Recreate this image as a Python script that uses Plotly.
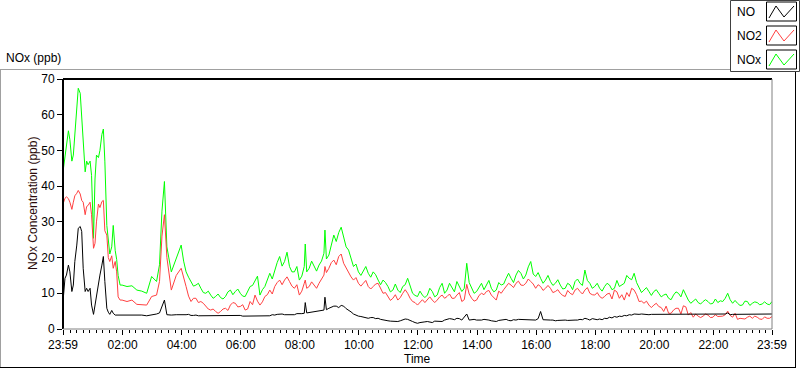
import plotly.graph_objects as go
import pandas as pd

# ---- main readings (minutes after the 23:59 start) ----
minutes = ([0, 4, 7, 11, 14, 18, 21, 24, 28, 31, 35, 38, 41, 45, 48, 51, 55, 58, 62, 65,
            68, 72, 75, 79, 82, 85, 89, 92, 95, 99, 102, 106, 109, 112, 116]
           + list(range(120, 200, 10))
           + [196, 201, 206, 211]
           + list(range(220, 490, 10))
           + [490, 492, 500, 510, 520, 530, 532]
           + list(range(540, 1450, 10)))

nox = ([44, 48, 51.5, 55.5, 53, 47, 48.7, 55, 61, 67.4, 66, 60, 52.5, 44, 47, 46, 47, 43, 25.4, 42,
        48.7, 48, 50, 54.5, 56, 47, 29, 25, 21, 23, 29, 22, 19.5, 15, 12.3]
       + [12.3, 11.9, 12.1, 10.9, 10.6, 10, 14.7, 13.3]
       + [18, 33, 41.3, 23]
       + [16, 20, 23.5, 16, 13.3, 12.3, 11.4, 10, 9.5, 9.1, 8.8, 9.1, 10.9, 10.5, 10, 9.1, 11.9, 13.7,
          9.5, 11.9, 15.6, 16.5, 20.3, 18.9, 17.5, 16, 13.7]
       + [17.5, 23.8, 17, 17.5, 17.9, 21.2, 27.7]
       + [20.7, 26.3, 27, 25.4, 22.1, 17.5, 16, 16.5, 15.6, 16, 13.7, 13.7, 11.9, 10.9, 10.9, 11.9,
          14.2, 10, 9.1, 9.5]
       + [9.5, 10.5, 9.5, 12.8, 10.9, 11.4, 13.3, 10.5, 18.4, 11.4, 10.5, 12.8, 12.3, 11.4, 10.9, 12.3,
          14.2, 14.2, 15.1, 15.6, 15.1, 18.9, 14.7, 14.2, 13.7, 13.3, 12.8, 12.3, 11.4, 12.3, 13.3, 12.8,
          16.5, 12.8, 11.9, 11.4, 11.9, 12.3]
       + [11.4, 11.9, 12.8, 14.2, 15.6, 11.4, 10.9, 10.5, 10.5, 10, 9.5, 8.6, 9.5, 10, 11, 8.1, 7.7,
          7.4, 7.7, 7.7, 7.2, 7.4, 7.7, 10, 7.2, 7.2, 6.7, 7.7, 7.2, 7.4, 7.0, 7.0, 7.7])

no2 = ([35, 36.6, 37, 36.5, 35.5, 33.5, 35.5, 37.3, 38, 38.8, 37.8, 36, 35.5, 32, 34.3, 34.6, 35.5, 32,
        22.6, 24, 30, 35, 34, 35.7, 36, 27.5, 26.3, 20, 18.9, 20.5, 17, 18.9, 16, 9, 8.1]
       + [8.1, 7.7, 8.1, 6.9, 6.7, 6.7, 9.1, 9.5]
       + [13.3, 26, 32, 20]
       + [10.9, 15, 17, 11.9, 7.7, 8.6, 7.7, 6.3, 5.3, 4.9, 4.9, 5.8, 6.7, 7.2, 6.3, 5.3, 7.7, 9.5, 6.7,
          9.1, 10.9, 11.9, 13.7, 13.7, 13.3, 11.4, 9.5]
       + [12.8, 13.7, 11.9, 12.3, 12.8, 15.1, 17.5]
       + [17, 19.3, 20.3, 18.4, 16, 13.7, 12.8, 12.8, 11.9, 11.9, 12.8, 10, 9.1, 8.6, 8.1, 10, 10, 7.7,
          6.7, 8.2]
       + [8.1, 8.1, 8.1, 9.5, 9.1, 8.6, 9.5, 7.7, 12.5, 8.6, 8.1, 10, 10.5, 9.5, 8.1, 10, 11.9, 12.3,
          12.8, 12.3, 12.8, 13.3, 11.4, 11.9, 11.4, 11.4, 10.5, 10, 9.1, 10, 10.9, 10.5, 10.9, 10, 9.5,
          9.1, 9.1, 10]
       + [10.9, 8.6, 8.1, 9.1, 10.9, 7.7, 7.2, 6.7, 6.7, 6.3, 4.9, 4.4, 5.3, 5.8, 6.5, 3.9, 3.3, 3.6,
          3.6, 3.9, 3.3, 3.5, 3.6, 5.0, 3.3, 2.7, 3.0, 3.3, 3.0, 3.3, 2.7, 3.0, 3.5])

no = ([7.7, 14.2, 15.1, 17.9, 16, 10.5, 12.3, 18.9, 23.5, 28.2, 28.7, 27.3, 17, 10.5, 11.4, 10.5, 11.4,
       6.7, 4.1, 6.7, 9.5, 13.3, 15.1, 17.9, 20.3, 13.3, 5.8, 4.7, 4.1, 5.2, 4.4, 3.9, 3.9, 3.9, 3.9]
      + [3.9, 3.8, 4.0, 3.8, 3.9, 3.7, 3.9, 4.2]
      + [4.5, 6.5, 8.1, 4.0]
      + [3.9, 4.0, 3.9, 4.0, 3.8, 3.9, 3.7, 3.8, 3.9, 3.7, 3.8, 3.9, 3.8, 3.7, 3.8, 3.6, 3.7, 3.6, 3.7,
         3.8, 3.7, 3.9, 4.2, 4.0, 4.1, 4.0, 4.2]
      + [4.4, 7.4, 4.6, 4.7, 4.9, 5.3, 8.9]
      + [5.8, 6.4, 6.0, 6.4, 5.3, 4.2, 3.6, 3.3, 3.0, 3.2, 3.0, 2.5, 2.3, 2.1, 2.1, 2.5, 2.7, 2.1, 1.6,
         1.8]
      + [2.1, 1.8, 2.2, 2.1, 2.7, 2.8, 3.0, 2.5, 4.2, 2.7, 2.5, 2.5, 2.7, 2.3, 2.1, 2.5, 2.7, 2.3, 2.5,
         2.7, 2.5, 2.7, 2.5, 4.9, 2.5, 2.5, 2.3, 2.5, 2.5, 2.5, 2.5, 2.7, 3.0, 2.5, 2.7, 2.8, 3.0, 3.3]
      + [3.5, 3.6, 3.8, 4.0, 4.2, 4.1, 4.1, 4.0, 4.1, 4.1, 4.0, 4.1, 4.2, 4.1, 4.1, 4.0, 4.1, 4.1, 4.0,
         4.1, 4.0, 4.1, 4.1, 4.5, 4.1, 4.1, 4.0, 4.1, 4.1, 4.2, 4.1, 4.1, 4.2])

# ---- in-between readings (04:04 onwards, every 10 min, offset 5 min) ----
minutes_mid = list(range(245, 1445, 10))

nox_mid = [19, 14.5, 12, 12.8, 10.2, 10.6, 8.6, 9.8, 8.4, 10.4,
           9.6, 11.2, 9.2, 10.6, 12.2, 14.8, 11, 13.6, 14, 18.6,
           17.6, 21.5, 16, 17.5, 14.8, 16, 19, 16.2, 19, 19.6,
           23.5, 24.5, 28.5, 23, 19.5, 18.2, 15, 17.5, 14.5, 15.2,
           12.4, 13, 10.4, 12.6, 10.2, 12.4, 11.8, 9.4, 10.6, 8.8,
           11.4, 9, 11.6, 10, 12.8, 10.4, 12, 11.4, 13, 10,
           11.8, 11, 13.6, 10.4, 13, 12.6, 15.6, 13, 16.4, 14,
           17.4, 15.4, 15.8, 12.8, 15, 12.2, 13.8, 11.2, 12.8, 11,
           14, 12.2, 13.6, 11.4, 12.8, 10.6, 12.8, 11, 13.6, 12.4,
           15, 13.8, 13, 10.2, 11.6, 9.4, 11, 9, 9.8, 8.2,
           10.4, 9, 9.4, 7.2, 8.4, 7, 8.2, 7, 8.4, 7.9,
           8.6, 8.2, 8, 6.6, 7.8, 6.6, 7.6, 6.8, 7.6, 6.8]

no2_mid = [14, 9.2, 8.6, 7.4, 7.2, 5.6, 5.6, 4.4, 5.6, 5.2,
           7.4, 6.2, 6.8, 5.6, 6.8, 7.8, 7.6, 9.6, 9.8, 13,
           12.4, 14.6, 12, 12.4, 10.6, 11.4, 13.2, 11.4, 13.8, 15.8,
           18.6, 18, 21, 17, 14.6, 14.4, 12, 13.6, 11.2, 12.6,
           11.2, 10.2, 8, 9.6, 8.8, 11, 8.6, 7.4, 7.4, 7.4,
           9, 7.4, 9, 8.6, 9.8, 8.6, 10.2, 8.2, 9.8, 7.8,
           9.4, 9.6, 10.8, 8.8, 10.6, 11, 12.8, 11.6, 13.4, 12.2,
           14, 12.6, 12.4, 10.8, 12.2, 10.2, 11, 9.4, 10.8, 9.6,
           11.4, 9.8, 11.6, 9.6, 10.2, 8.6, 9.8, 8.4, 10.4, 9.6,
           10.2, 11.4, 9.6, 7.8, 7.8, 6, 7.2, 6, 6.4, 4.4,
           5.8, 4.2, 6.2, 4.6, 4.2, 3.2, 4.2, 3.2, 4, 3.6,
           4, 3.8, 4.4, 3, 2.8, 3.6, 3.6, 2.8, 3.4, 3.0]

no_mid = [3.9, 4.1, 3.8, 3.7, 3.9, 3.8, 3.7, 3.9, 3.8, 3.7,
          3.9, 3.7, 3.6, 3.8, 3.6, 3.8, 3.7, 3.8, 4.0, 4.1,
          4.2, 4.0, 4.1, 4.3, 4.3, 4.5, 4.6, 4.8, 5.2, 5.4,
          6.2, 6.4, 6.6, 5.7, 4.8, 3.8, 3.5, 3.1, 3.2, 2.9,
          2.7, 2.5, 2.2, 2.2, 2.3, 2.8, 2.3, 1.8, 1.8, 2.0,
          2.0, 2.2, 2.0, 2.5, 2.9, 2.6, 2.9, 3.2, 2.5, 2.7,
          2.4, 2.7, 2.5, 2.1, 2.4, 2.6, 2.4, 2.6, 2.7, 2.5,
          2.6, 2.7, 2.9, 2.6, 2.4, 2.5, 2.4, 2.6, 2.4, 2.6,
          2.5, 2.6, 2.8, 2.9, 2.6, 2.6, 2.9, 3.1, 3.3, 3.5,
          3.7, 3.9, 4.1, 4.2, 4.0, 4.1, 4.0, 4.1, 4.0, 4.2,
          4.1, 4.2, 4.0, 4.1, 4.1, 4.0, 4.1, 4.0, 4.1, 4.1,
          4.2, 4.0, 4.1, 4.0, 4.1, 4.1, 4.0, 4.2, 4.1, 4.1]

tick_labels = ["23:59", "02:00", "04:00", "06:00", "08:00", "10:00", "12:00",
               "14:00", "16:00", "18:00", "20:00", "22:00", "23:59"]
y_ticks = [0, 10, 20, 30, 40, 50, 60, 70]

# ---- assemble in time order ----
rows = sorted(zip(minutes + minutes_mid, no + no_mid, no2 + no2_mid, nox + nox_mid))
start = pd.Timestamp("2014-01-01 23:59")
end = start + pd.Timedelta(minutes=1440)
times = [start + pd.Timedelta(minutes=r[0]) for r in rows]
s_no = [r[1] for r in rows]
s_no2 = [r[2] for r in rows]
s_nox = [r[3] for r in rows]
tick_vals = [start] + [pd.Timestamp("2014-01-02") + pd.Timedelta(hours=h) for h in range(2, 23, 2)] + [end]

FONT = "Liberation Sans"
W, H = 800, 369
L, R, T, B = 63, 772, 79, 329


def px(x):
    return (x - L) / (R - L)


def py(y):
    return (B - y) / (B - T)


fig = go.Figure()
fig.add_trace(go.Scatter(x=times, y=s_nox, mode="lines", name="NOx",
                         line=dict(color="#00ff00", width=1)))
fig.add_trace(go.Scatter(x=times, y=s_no2, mode="lines", name="NO2",
                         line=dict(color="#ff4040", width=1)))
fig.add_trace(go.Scatter(x=times, y=s_no, mode="lines", name="NO",
                         line=dict(color="#000000", width=1)))

shapes = []
# plot frame
shapes.append(dict(type="line", xref="paper", yref="paper", x0=0, x1=0, y0=0, y1=1,
                   line=dict(color="black", width=2)))
shapes.append(dict(type="line", xref="paper", yref="paper", x0=0, x1=1, y0=1, y1=1,
                   line=dict(color="black", width=2)))
shapes.append(dict(type="line", xref="paper", yref="paper", x0=1, x1=1, y0=0, y1=1,
                   line=dict(color="#808080", width=1)))
shapes.append(dict(type="line", xref="paper", yref="paper", x0=0, x1=1, y0=0, y1=0,
                   line=dict(color="#808080", width=1)))
# outer panel frame
shapes.append(dict(type="line", xref="paper", yref="paper", x0=px(0), x1=px(730), y0=py(69.5), y1=py(69.5),
                   line=dict(color="#a0a0a0", width=1)))
shapes.append(dict(type="line", xref="paper", yref="paper", x0=px(0.5), x1=px(0.5), y0=py(69.5), y1=py(368),
                   line=dict(color="#a0a0a0", width=1)))
shapes.append(dict(type="line", xref="paper", yref="paper", x0=px(0), x1=px(796), y0=py(367.5), y1=py(367.5),
                   line=dict(color="#000000", width=1)))
shapes.append(dict(type="line", xref="paper", yref="paper", x0=px(795.5), x1=px(795.5), y0=py(72), y1=py(368),
                   line=dict(color="#000000", width=1)))
# legend box
shapes.append(dict(type="rect", xref="paper", yref="paper", x0=px(730.5), x1=px(799.5), y0=py(0.5), y1=py(71.5),
                   line=dict(color="#404040", width=1), fillcolor="white", layer="below"))

annotations = []
legend_items = [("NO", "#000000"), ("NO2", "#ff4040"), ("NOx", "#00ff00")]
for i, (name, col) in enumerate(legend_items):
    top = 2 + i * 24
    bot = top + 19
    shapes.append(dict(type="rect", xref="paper", yref="paper", x0=px(766.5), x1=px(796.5),
                       y0=py(top), y1=py(bot), line=dict(color="#000000", width=1), fillcolor="white"))
    zig = [(769, bot - 3), (776, top + 4), (784, bot - 4), (794, top + 4)]
    path = "M " + " L ".join(f"{px(a)},{py(b)}" for a, b in zig)
    shapes.append(dict(type="path", xref="paper", yref="paper", path=path, line=dict(color=col, width=1)))
    annotations.append(dict(xref="paper", yref="paper", x=px(735), y=py(top + 10), text=name,
                            showarrow=False, xanchor="left", yanchor="middle",
                            font=dict(family=FONT, size=12, color="black")))

annotations.append(dict(xref="paper", yref="paper", x=px(4), y=py(58), text="NOx (ppb)", showarrow=False,
                        xanchor="left", yanchor="middle", font=dict(family=FONT, size=12, color="black")))
annotations.append(dict(xref="paper", yref="paper", x=px(417), y=py(359), text="Time", showarrow=False,
                        xanchor="center", yanchor="middle", font=dict(family=FONT, size=12, color="black")))
annotations.append(dict(xref="paper", yref="paper", x=px(33), y=0.5, text="NOx Concentration (ppb)",
                        showarrow=False, textangle=-90, xanchor="center", yanchor="middle",
                        font=dict(family=FONT, size=12, color="#2a0a0a")))

fig.update_layout(
    width=W, height=H,
    margin=dict(l=L, r=W - R, t=T, b=H - B),
    paper_bgcolor="white", plot_bgcolor="white",
    showlegend=False,
    font=dict(family=FONT, size=12, color="black"),
    shapes=shapes, annotations=annotations,
    xaxis=dict(type="date", range=[start, end], tickmode="array", tickvals=tick_vals, ticktext=tick_labels,
               ticks="outside", ticklen=5, tickwidth=1, tickcolor="black", showgrid=False, zeroline=False,
               showline=False, tickfont=dict(family=FONT, size=12, color="black"),
               minor=dict(ticks="outside", ticklen=3, tickwidth=1, tickcolor="black",
                          tick0="2014-01-02 02:00", dtick=800000, showgrid=False)),
    yaxis=dict(range=[0, 70], tickmode="array", tickvals=y_ticks, ticks="outside", ticklen=5, tickwidth=1,
               tickcolor="black", showgrid=False, zeroline=False, showline=False,
               tickfont=dict(family=FONT, size=12, color="black")),
)

fig.write_html("out.html", config={"displayModeBar": False},
               post_script="document.body.style.margin='0';document.body.style.padding='0';"
                           "document.documentElement.style.overflow='hidden';")
